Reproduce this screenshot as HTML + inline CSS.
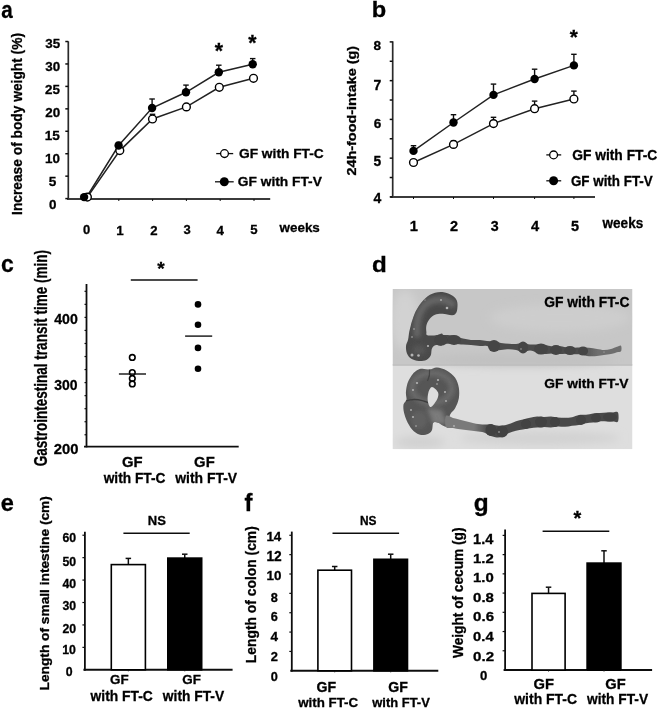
<!DOCTYPE html>
<html><head><meta charset="utf-8"><style>
html,body{margin:0;padding:0;background:#fff;}
svg{display:block;}
text{font-family:"Liberation Sans", sans-serif;font-weight:bold;stroke:#000;stroke-width:0.3px;}
</style></head><body>
<svg width="658" height="708" viewBox="0 0 658 708">
<defs><filter id="soft" x="0" y="0" width="100%" height="100%"><feGaussianBlur stdDeviation="0.35"/></filter></defs>
<g filter="url(#soft)">
<rect width="658" height="708" fill="#fff"/>
<text transform="translate(1.20,17.86) scale(0.831,1)" font-size="24.82" fill="#000">a</text>
<text transform="translate(21.53,214.92) rotate(-90) scale(0.921,1)" font-size="14.95">Increase of body weight (%)</text>
<line x1="68.3" y1="41.3" x2="68.3" y2="199.7" stroke="#2a2a2a" stroke-width="1.7"/>
<line x1="67.1" y1="199.0" x2="270.2" y2="199.0" stroke="#3a3a3a" stroke-width="1.8"/>
<line x1="65.3" y1="198.6" x2="68.3" y2="198.6" stroke="#111" stroke-width="1.5"/>
<line x1="65.3" y1="176.16" x2="68.3" y2="176.16" stroke="#111" stroke-width="1.5"/>
<line x1="65.3" y1="153.72" x2="68.3" y2="153.72" stroke="#111" stroke-width="1.5"/>
<line x1="65.3" y1="131.27999999999997" x2="68.3" y2="131.27999999999997" stroke="#111" stroke-width="1.5"/>
<line x1="65.3" y1="108.83999999999999" x2="68.3" y2="108.83999999999999" stroke="#111" stroke-width="1.5"/>
<line x1="65.3" y1="86.39999999999999" x2="68.3" y2="86.39999999999999" stroke="#111" stroke-width="1.5"/>
<line x1="65.3" y1="63.95999999999998" x2="68.3" y2="63.95999999999998" stroke="#111" stroke-width="1.5"/>
<line x1="65.3" y1="41.51999999999998" x2="68.3" y2="41.51999999999998" stroke="#111" stroke-width="1.5"/>
<text transform="translate(48.88,209.32) scale(1.000,1)" font-size="13.42" fill="#000">0</text>
<text transform="translate(48.79,186.12) scale(1.000,1)" font-size="13.62" fill="#000">5</text>
<text transform="translate(44.99,162.62) scale(1.000,1)" font-size="13.42" fill="#000">10</text>
<text transform="translate(44.79,140.22) scale(1.000,1)" font-size="13.62" fill="#000">15</text>
<text transform="translate(45.18,117.32) scale(1.000,1)" font-size="13.42" fill="#000">20</text>
<text transform="translate(45.09,94.32) scale(1.000,1)" font-size="13.42" fill="#000">25</text>
<text transform="translate(45.27,71.10) scale(1.000,1)" font-size="13.39" fill="#000">30</text>
<text transform="translate(45.19,48.20) scale(1.000,1)" font-size="13.39" fill="#000">35</text>
<line x1="85" y1="199.0" x2="85" y2="201.0" stroke="#111" stroke-width="1"/>
<line x1="118.8" y1="199.0" x2="118.8" y2="201.0" stroke="#111" stroke-width="1"/>
<line x1="152.6" y1="199.0" x2="152.6" y2="201.0" stroke="#111" stroke-width="1"/>
<line x1="186.4" y1="199.0" x2="186.4" y2="201.0" stroke="#111" stroke-width="1"/>
<line x1="220.2" y1="199.0" x2="220.2" y2="201.0" stroke="#111" stroke-width="1"/>
<line x1="254" y1="199.0" x2="254" y2="201.0" stroke="#111" stroke-width="1"/>
<text transform="translate(82.90,234.37) scale(1.000,1)" font-size="12.99" fill="#000">0</text>
<text transform="translate(116.25,234.50) scale(1.000,1)" font-size="13.37" fill="#000">1</text>
<text transform="translate(150.37,234.50) scale(1.000,1)" font-size="13.18" fill="#000">2</text>
<text transform="translate(183.48,234.35) scale(1.000,1)" font-size="12.97" fill="#000">3</text>
<text transform="translate(216.52,234.50) scale(1.000,1)" font-size="13.37" fill="#000">4</text>
<text transform="translate(250.31,234.37) scale(1.000,1)" font-size="13.19" fill="#000">5</text>
<text transform="translate(279.54,232.38) scale(1.049,1)" font-size="12.80" fill="#000">weeks</text>
<polyline points="87.4,197.1 119.8,150.6 152.5,119.0 186.4,106.9 219.3,87.3 253.5,78.3" fill="none" stroke="#222" stroke-width="1.5"/>
<polyline points="87.0,196.5 118.6,145.5 152.1,108.0 186.0,92.3 218.8,72.3 252.7,64.3" fill="none" stroke="#222" stroke-width="1.5"/>
<line x1="118.6" y1="142.5" x2="118.6" y2="145.5" stroke="#111" stroke-width="1.4"/>
<line x1="115.85" y1="142.5" x2="121.35" y2="142.5" stroke="#111" stroke-width="1.4"/>
<line x1="152.1" y1="99.0" x2="152.1" y2="108.0" stroke="#111" stroke-width="1.4"/>
<line x1="149.35" y1="99.0" x2="154.85" y2="99.0" stroke="#111" stroke-width="1.4"/>
<line x1="186.0" y1="85.1" x2="186.0" y2="92.3" stroke="#111" stroke-width="1.4"/>
<line x1="183.25" y1="85.1" x2="188.75" y2="85.1" stroke="#111" stroke-width="1.4"/>
<line x1="218.8" y1="65.2" x2="218.8" y2="72.3" stroke="#111" stroke-width="1.4"/>
<line x1="216.05" y1="65.2" x2="221.55" y2="65.2" stroke="#111" stroke-width="1.4"/>
<line x1="252.7" y1="58.6" x2="252.7" y2="64.3" stroke="#111" stroke-width="1.4"/>
<line x1="249.95" y1="58.6" x2="255.45" y2="58.6" stroke="#111" stroke-width="1.4"/>
<line x1="152.5" y1="114.3" x2="152.5" y2="119.0" stroke="#111" stroke-width="1.4"/>
<line x1="149.75" y1="114.3" x2="155.25" y2="114.3" stroke="#111" stroke-width="1.4"/>
<circle cx="87.4" cy="197.1" r="3.9" fill="#fff" stroke="#000" stroke-width="1.4"/>
<circle cx="119.8" cy="150.6" r="3.9" fill="#fff" stroke="#000" stroke-width="1.4"/>
<circle cx="152.5" cy="119.0" r="3.9" fill="#fff" stroke="#000" stroke-width="1.4"/>
<circle cx="186.4" cy="106.9" r="3.9" fill="#fff" stroke="#000" stroke-width="1.4"/>
<circle cx="219.3" cy="87.3" r="3.9" fill="#fff" stroke="#000" stroke-width="1.4"/>
<circle cx="253.5" cy="78.3" r="3.9" fill="#fff" stroke="#000" stroke-width="1.4"/>
<circle cx="84.1" cy="197.1" r="4.2" fill="#000"/>
<circle cx="118.6" cy="145.5" r="4.2" fill="#000"/>
<circle cx="152.1" cy="108.0" r="4.2" fill="#000"/>
<circle cx="186.0" cy="92.3" r="4.2" fill="#000"/>
<circle cx="218.8" cy="72.3" r="4.2" fill="#000"/>
<circle cx="252.7" cy="64.3" r="4.2" fill="#000"/>
<text transform="translate(214.75,57.71) scale(1.000,1)" font-size="21.23" fill="#000">*</text>
<text transform="translate(248.25,49.71) scale(1.000,1)" font-size="21.23" fill="#000">*</text>
<line x1="216.2" y1="153.6" x2="233.2" y2="153.6" stroke="#111" stroke-width="1.3"/>
<circle cx="224.5" cy="153.6" r="3.9" fill="#fff" stroke="#000" stroke-width="1.3"/>
<text transform="translate(238.94,158.37) scale(1.011,1)" font-size="13.62" fill="#000">GF with FT-C</text>
<line x1="215" y1="181.8" x2="233.7" y2="181.8" stroke="#111" stroke-width="1.3"/>
<circle cx="224.3" cy="181.8" r="4.5" fill="#000"/>
<text transform="translate(237.74,186.37) scale(1.011,1)" font-size="13.62" fill="#000">GF with FT-V</text>
<text transform="translate(371.84,17.38) scale(1.064,1)" font-size="22.20" fill="#000">b</text>
<text transform="translate(355.82,175.60) rotate(-90) scale(1.099,1)" font-size="13.13">24h-food-intake (g)</text>
<line x1="392.7" y1="41.3" x2="392.7" y2="197.7" stroke="#2a2a2a" stroke-width="1.7"/>
<line x1="390.2" y1="197.0" x2="595" y2="197.0" stroke="#3a3a3a" stroke-width="1.8"/>
<line x1="389.7" y1="196.9" x2="392.7" y2="196.9" stroke="#111" stroke-width="1.5"/>
<line x1="389.7" y1="177.525" x2="392.7" y2="177.525" stroke="#111" stroke-width="1.5"/>
<line x1="389.7" y1="158.15" x2="392.7" y2="158.15" stroke="#111" stroke-width="1.5"/>
<line x1="389.7" y1="138.775" x2="392.7" y2="138.775" stroke="#111" stroke-width="1.5"/>
<line x1="389.7" y1="119.4" x2="392.7" y2="119.4" stroke="#111" stroke-width="1.5"/>
<line x1="389.7" y1="100.025" x2="392.7" y2="100.025" stroke="#111" stroke-width="1.5"/>
<line x1="389.7" y1="80.65" x2="392.7" y2="80.65" stroke="#111" stroke-width="1.5"/>
<line x1="389.7" y1="61.275000000000006" x2="392.7" y2="61.275000000000006" stroke="#111" stroke-width="1.5"/>
<line x1="389.7" y1="41.900000000000006" x2="392.7" y2="41.900000000000006" stroke="#111" stroke-width="1.5"/>
<text transform="translate(373.45,203.30) scale(1.000,1)" font-size="13.95" fill="#000">4</text>
<text transform="translate(373.55,166.37) scale(1.000,1)" font-size="13.76" fill="#000">5</text>
<text transform="translate(373.63,127.57) scale(1.000,1)" font-size="13.56" fill="#000">6</text>
<text transform="translate(373.53,90.10) scale(1.000,1)" font-size="13.95" fill="#000">7</text>
<text transform="translate(373.62,50.47) scale(1.000,1)" font-size="13.56" fill="#000">8</text>
<line x1="413.5" y1="197.0" x2="413.5" y2="199.0" stroke="#111" stroke-width="1"/>
<line x1="453.5" y1="197.0" x2="453.5" y2="199.0" stroke="#111" stroke-width="1"/>
<line x1="493.5" y1="197.0" x2="493.5" y2="199.0" stroke="#111" stroke-width="1"/>
<line x1="534.6" y1="197.0" x2="534.6" y2="199.0" stroke="#111" stroke-width="1"/>
<line x1="573.9" y1="197.0" x2="573.9" y2="199.0" stroke="#111" stroke-width="1"/>
<text transform="translate(409.66,231.00) scale(1.000,1)" font-size="14.68" fill="#000">1</text>
<text transform="translate(450.02,231.00) scale(1.000,1)" font-size="14.46" fill="#000">2</text>
<text transform="translate(490.74,230.84) scale(1.000,1)" font-size="14.24" fill="#000">3</text>
<text transform="translate(531.05,231.00) scale(1.000,1)" font-size="14.68" fill="#000">4</text>
<text transform="translate(570.95,230.86) scale(1.000,1)" font-size="14.48" fill="#000">5</text>
<text transform="translate(602.54,228.26) scale(0.976,1)" font-size="13.89" fill="#000">weeks</text>
<polyline points="413.5,162.5 453.5,144.4 493.5,123.6 534.6,108.7 573.9,99" fill="none" stroke="#222" stroke-width="1.5"/>
<polyline points="413.5,150.9 453.5,122.5 493.5,94.9 534.6,79 573.9,65.4" fill="none" stroke="#222" stroke-width="1.5"/>
<line x1="413.5" y1="145.7" x2="413.5" y2="150.9" stroke="#111" stroke-width="1.4"/>
<line x1="410.75" y1="145.7" x2="416.25" y2="145.7" stroke="#111" stroke-width="1.4"/>
<line x1="453.5" y1="114.7" x2="453.5" y2="122.5" stroke="#111" stroke-width="1.4"/>
<line x1="450.75" y1="114.7" x2="456.25" y2="114.7" stroke="#111" stroke-width="1.4"/>
<line x1="493.5" y1="84.1" x2="493.5" y2="94.9" stroke="#111" stroke-width="1.4"/>
<line x1="490.75" y1="84.1" x2="496.25" y2="84.1" stroke="#111" stroke-width="1.4"/>
<line x1="534.6" y1="69.2" x2="534.6" y2="79" stroke="#111" stroke-width="1.4"/>
<line x1="531.85" y1="69.2" x2="537.35" y2="69.2" stroke="#111" stroke-width="1.4"/>
<line x1="573.9" y1="54.3" x2="573.9" y2="65.4" stroke="#111" stroke-width="1.4"/>
<line x1="571.15" y1="54.3" x2="576.65" y2="54.3" stroke="#111" stroke-width="1.4"/>
<line x1="413.5" y1="160" x2="413.5" y2="162.5" stroke="#111" stroke-width="1.4"/>
<line x1="410.75" y1="160" x2="416.25" y2="160" stroke="#111" stroke-width="1.4"/>
<line x1="453.5" y1="141" x2="453.5" y2="144.4" stroke="#111" stroke-width="1.4"/>
<line x1="450.75" y1="141" x2="456.25" y2="141" stroke="#111" stroke-width="1.4"/>
<line x1="493.5" y1="117.3" x2="493.5" y2="123.6" stroke="#111" stroke-width="1.4"/>
<line x1="490.75" y1="117.3" x2="496.25" y2="117.3" stroke="#111" stroke-width="1.4"/>
<line x1="534.6" y1="101.1" x2="534.6" y2="108.7" stroke="#111" stroke-width="1.4"/>
<line x1="531.85" y1="101.1" x2="537.35" y2="101.1" stroke="#111" stroke-width="1.4"/>
<line x1="573.9" y1="91.1" x2="573.9" y2="99" stroke="#111" stroke-width="1.4"/>
<line x1="571.15" y1="91.1" x2="576.65" y2="91.1" stroke="#111" stroke-width="1.4"/>
<circle cx="413.5" cy="162.5" r="3.9" fill="#fff" stroke="#000" stroke-width="1.4"/>
<circle cx="453.5" cy="144.4" r="3.9" fill="#fff" stroke="#000" stroke-width="1.4"/>
<circle cx="493.5" cy="123.6" r="3.9" fill="#fff" stroke="#000" stroke-width="1.4"/>
<circle cx="534.6" cy="108.7" r="3.9" fill="#fff" stroke="#000" stroke-width="1.4"/>
<circle cx="573.9" cy="99" r="3.9" fill="#fff" stroke="#000" stroke-width="1.4"/>
<circle cx="413.5" cy="150.9" r="4.2" fill="#000"/>
<circle cx="453.5" cy="122.5" r="4.2" fill="#000"/>
<circle cx="493.5" cy="94.9" r="4.2" fill="#000"/>
<circle cx="534.6" cy="79" r="4.2" fill="#000"/>
<circle cx="573.9" cy="65.4" r="4.2" fill="#000"/>
<text transform="translate(569.80,44.44) scale(1.000,1)" font-size="20.70" fill="#000">*</text>
<line x1="546.3" y1="154.9" x2="561.2" y2="154.9" stroke="#111" stroke-width="1.3"/>
<circle cx="553.6" cy="154.9" r="3.9" fill="#fff" stroke="#000" stroke-width="1.3"/>
<text transform="translate(572.23,159.56) scale(0.965,1)" font-size="14.30" fill="#000">GF with FT-C</text>
<line x1="546.3" y1="180.8" x2="561.2" y2="180.8" stroke="#111" stroke-width="1.3"/>
<circle cx="553.6" cy="180.8" r="4.5" fill="#000"/>
<text transform="translate(570.95,185.76) scale(0.946,1)" font-size="14.16" fill="#000">GF with FT-V</text>
<text transform="translate(1.10,272.06) scale(0.953,1)" font-size="24.09" fill="#000">c</text>
<text transform="translate(46.83,466.35) rotate(-90) scale(0.764,1)" font-size="17.70">Gastrointestinal transit time (min)</text>
<line x1="86.5" y1="284" x2="86.5" y2="447.4" stroke="#111" stroke-width="1.8"/>
<line x1="84" y1="446.7" x2="238.7" y2="446.7" stroke="#111" stroke-width="1.8"/>
<line x1="84.5" y1="291.32" x2="86.5" y2="291.32" stroke="#111" stroke-width="1.2"/>
<line x1="84.5" y1="304.35999999999996" x2="86.5" y2="304.35999999999996" stroke="#111" stroke-width="1.2"/>
<line x1="84.5" y1="317.4" x2="86.5" y2="317.4" stroke="#111" stroke-width="1.2"/>
<line x1="84.5" y1="330.44" x2="86.5" y2="330.44" stroke="#111" stroke-width="1.2"/>
<line x1="84.5" y1="343.47999999999996" x2="86.5" y2="343.47999999999996" stroke="#111" stroke-width="1.2"/>
<line x1="84.5" y1="356.52" x2="86.5" y2="356.52" stroke="#111" stroke-width="1.2"/>
<line x1="84.5" y1="369.55999999999995" x2="86.5" y2="369.55999999999995" stroke="#111" stroke-width="1.2"/>
<line x1="84.5" y1="382.59999999999997" x2="86.5" y2="382.59999999999997" stroke="#111" stroke-width="1.2"/>
<line x1="84.5" y1="395.64" x2="86.5" y2="395.64" stroke="#111" stroke-width="1.2"/>
<line x1="84.5" y1="408.67999999999995" x2="86.5" y2="408.67999999999995" stroke="#111" stroke-width="1.2"/>
<line x1="84.5" y1="421.71999999999997" x2="86.5" y2="421.71999999999997" stroke="#111" stroke-width="1.2"/>
<line x1="84.5" y1="434.76" x2="86.5" y2="434.76" stroke="#111" stroke-width="1.2"/>
<text transform="translate(54.19,324.46) scale(0.991,1)" font-size="14.27" fill="#000">400</text>
<text transform="translate(54.28,389.54) scale(0.981,1)" font-size="14.24" fill="#000">300</text>
<text transform="translate(53.69,454.25) scale(0.980,1)" font-size="15.11" fill="#000">200</text>
<line x1="130.8" y1="280.0" x2="197.6" y2="280.0" stroke="#111" stroke-width="1.5"/>
<text transform="translate(157.32,275.33) scale(1.000,1)" font-size="19.08" fill="#000">*</text>
<circle cx="132.3" cy="357.4" r="2.8" fill="#fff" stroke="#000" stroke-width="1.6"/>
<circle cx="132.3" cy="372.6" r="2.8" fill="#fff" stroke="#000" stroke-width="1.6"/>
<circle cx="132.3" cy="378.6" r="2.8" fill="#fff" stroke="#000" stroke-width="1.6"/>
<circle cx="132.3" cy="383.9" r="2.8" fill="#fff" stroke="#000" stroke-width="1.6"/>
<line x1="118.9" y1="374" x2="146" y2="374" stroke="#111" stroke-width="1.4"/>
<circle cx="198" cy="304.4" r="3.3" fill="#000"/>
<circle cx="198" cy="324.8" r="3.3" fill="#000"/>
<circle cx="198" cy="347.9" r="3.3" fill="#000"/>
<circle cx="198" cy="368.7" r="3.3" fill="#000"/>
<line x1="185.1" y1="336.1" x2="212.2" y2="336.1" stroke="#111" stroke-width="1.4"/>
<text transform="translate(122.02,467.26) scale(1.000,1)" font-size="14.83" fill="#000">GF</text>
<text transform="translate(103.64,483.15) scale(0.885,1)" font-size="15.52" fill="#000">with FT-C</text>
<text transform="translate(194.12,467.26) scale(1.000,1)" font-size="14.83" fill="#000">GF</text>
<text transform="translate(175.24,483.16) scale(0.896,1)" font-size="15.54" fill="#000">with FT-V</text>
<text transform="translate(371.91,272.38) scale(1.058,1)" font-size="22.88" fill="#000">d</text>
<defs>
<filter id="pb" x="-10%" y="-10%" width="120%" height="120%"><feGaussianBlur stdDeviation="0.7"/></filter>
<filter id="pb2" x="-20%" y="-20%" width="140%" height="140%"><feGaussianBlur stdDeviation="4"/></filter>
<filter id="pb3" x="-20%" y="-20%" width="140%" height="140%"><feGaussianBlur stdDeviation="2"/></filter>
<clipPath id="pc"><rect x="392.5" y="288.9" width="240" height="160.4"/></clipPath>
<clipPath id="hookc"><path d="M457.5 305.1 C457.5 307.2 457.3 310.9 456.4 312.6 C455.5 314.3 454.5 315.1 452.2 315.3 C449.9 315.5 445.4 313.8 442.5 313.7 C439.6 313.6 437.1 313.9 435.0 314.8 C432.9 315.7 431.0 317.3 429.6 319.1 C428.2 320.9 426.9 323.4 426.4 325.5 C425.9 327.6 426.2 330.4 426.4 332.0 C426.6 333.6 425.6 334.7 427.4 335.2 C429.2 335.7 434.6 335.4 437.1 335.2 C439.6 335.0 441.6 332.5 442.5 334.1 C443.4 335.7 443.4 343.2 442.5 345.0 C441.6 346.8 438.5 344.8 437.1 344.9 C435.7 345.0 434.8 345.2 433.9 345.9 C433.0 346.6 432.2 347.6 431.7 349.2 C431.2 350.8 431.6 353.8 430.7 355.6 C429.8 357.4 428.4 359.0 426.4 359.9 C424.4 360.8 421.4 361.2 418.9 361.0 C416.4 360.8 413.3 360.1 411.3 358.8 C409.3 357.5 407.9 355.5 407.0 353.4 C406.1 351.2 405.8 348.2 406.0 345.9 C406.2 343.6 407.6 341.8 408.1 339.5 C408.6 337.2 408.8 334.3 409.2 332.0 C409.6 329.7 410.3 327.5 410.8 325.5 C411.3 323.5 411.6 322.4 412.4 320.1 C413.2 317.8 414.2 314.5 415.6 311.6 C417.0 308.8 419.0 305.5 421.0 303.0 C423.0 300.5 425.1 298.2 427.4 296.5 C429.7 294.8 432.3 293.5 435.0 292.8 C437.7 292.1 440.7 291.8 443.6 292.2 C446.5 292.6 450.1 294.1 452.2 295.4 C454.3 296.6 455.5 298.1 456.4 299.7 C457.3 301.3 457.5 303.0 457.5 305.1 Z"/></clipPath>
<clipPath id="ringc"><path d="M422.3 368.7 C424.3 368.6 427.2 369.8 429.6 369.6 C432.0 369.4 434.1 367.4 436.9 367.5 C439.7 367.6 443.6 368.8 446.6 370.5 C449.6 372.2 453.1 375.0 455.1 377.8 C457.1 380.6 458.2 384.1 458.8 387.5 C459.4 390.9 459.4 395.1 458.8 398.5 C458.2 401.9 456.5 405.6 455.1 408.2 C453.7 410.8 451.7 411.3 450.3 414.3 C448.9 417.3 448.6 425.0 446.6 426.4 C444.6 427.8 440.3 423.4 438.1 422.8 C435.9 422.2 434.3 421.6 433.3 422.8 C432.3 424.0 432.8 428.3 432.0 430.1 C431.2 431.9 430.2 432.9 428.4 433.7 C426.6 434.5 423.5 435.4 421.1 435.0 C418.7 434.6 416.0 433.3 413.8 431.3 C411.6 429.3 409.3 425.8 407.7 422.8 C406.1 419.8 404.8 416.1 404.1 413.1 C403.4 410.1 403.1 406.8 403.5 404.6 C403.9 402.4 406.1 401.7 406.5 399.7 C406.9 397.7 405.7 395.2 405.9 392.4 C406.1 389.6 406.6 385.7 407.7 382.7 C408.8 379.7 411.0 376.3 412.6 374.2 C414.2 372.1 415.9 370.8 417.5 369.9 C419.1 369.0 420.3 368.8 422.3 368.7 Z"/></clipPath>
</defs>
<g clip-path="url(#pc)">
<rect x="392.5" y="288.9" width="240" height="76" fill="#c7c7c7"/>
<rect x="392.5" y="364.8" width="240" height="84.5" fill="#dedede"/>
<g filter="url(#pb2)">
<ellipse cx="405" cy="320" rx="14" ry="30" fill="#d2d2d2"/>
<ellipse cx="560" cy="318" rx="70" ry="14" fill="#cdcdcd"/>
<ellipse cx="520" cy="360" rx="95" ry="6" fill="#c0c0c0"/>
<ellipse cx="540" cy="438" rx="80" ry="7" fill="#d2d2d2"/>
<ellipse cx="420" cy="442" rx="25" ry="6" fill="#d0d0d0"/>
</g>
<rect x="392.5" y="364.2" width="240" height="1.6" fill="#bdbdbd"/>
<g filter="url(#pb)">
<path d="M457.5 305.1 C457.5 307.2 457.3 310.9 456.4 312.6 C455.5 314.3 454.5 315.1 452.2 315.3 C449.9 315.5 445.4 313.8 442.5 313.7 C439.6 313.6 437.1 313.9 435.0 314.8 C432.9 315.7 431.0 317.3 429.6 319.1 C428.2 320.9 426.9 323.4 426.4 325.5 C425.9 327.6 426.2 330.4 426.4 332.0 C426.6 333.6 425.6 334.7 427.4 335.2 C429.2 335.7 434.6 335.4 437.1 335.2 C439.6 335.0 441.6 332.5 442.5 334.1 C443.4 335.7 443.4 343.2 442.5 345.0 C441.6 346.8 438.5 344.8 437.1 344.9 C435.7 345.0 434.8 345.2 433.9 345.9 C433.0 346.6 432.2 347.6 431.7 349.2 C431.2 350.8 431.6 353.8 430.7 355.6 C429.8 357.4 428.4 359.0 426.4 359.9 C424.4 360.8 421.4 361.2 418.9 361.0 C416.4 360.8 413.3 360.1 411.3 358.8 C409.3 357.5 407.9 355.5 407.0 353.4 C406.1 351.2 405.8 348.2 406.0 345.9 C406.2 343.6 407.6 341.8 408.1 339.5 C408.6 337.2 408.8 334.3 409.2 332.0 C409.6 329.7 410.3 327.5 410.8 325.5 C411.3 323.5 411.6 322.4 412.4 320.1 C413.2 317.8 414.2 314.5 415.6 311.6 C417.0 308.8 419.0 305.5 421.0 303.0 C423.0 300.5 425.1 298.2 427.4 296.5 C429.7 294.8 432.3 293.5 435.0 292.8 C437.7 292.1 440.7 291.8 443.6 292.2 C446.5 292.6 450.1 294.1 452.2 295.4 C454.3 296.6 455.5 298.1 456.4 299.7 C457.3 301.3 457.5 303.0 457.5 305.1 Z" fill="#4a4a4a"/>
<g clip-path="url(#hookc)" filter="url(#pb3)">
<path d="M452 304 C 445 298 432 298 424 306 C 418 313 416 322 417 334" stroke="#666" stroke-width="7" fill="none" stroke-linecap="round"/>
<ellipse cx="419" cy="350" rx="7" ry="5" fill="#555"/>
</g>
<linearGradient id="tg" gradientUnits="userSpaceOnUse" x1="578" y1="0" x2="598" y2="0"><stop offset="0" stop-color="#4c4c4c"/><stop offset="1" stop-color="#6e6e6e"/></linearGradient>
<path d="M436.0 335.6 C437.5 334.1 441.8 335.0 445.0 335.1 C448.2 335.2 452.0 335.4 455.0 336.0 C458.0 336.6 460.3 337.8 463.0 338.5 C465.7 339.1 468.2 339.7 471.0 339.9 C473.8 340.2 477.3 339.8 480.0 340.0 C482.7 340.1 484.7 340.7 487.0 340.9 C489.3 341.2 491.7 341.3 494.0 341.6 C496.3 341.9 498.5 342.5 501.0 342.9 C503.5 343.2 506.5 343.5 509.0 343.7 C511.5 343.9 513.7 344.1 516.0 344.0 C518.3 343.8 520.7 342.8 523.0 342.9 C525.3 342.9 527.7 344.2 530.0 344.5 C532.3 344.7 534.5 344.4 537.0 344.5 C539.5 344.6 542.5 344.8 545.0 345.1 C547.5 345.4 549.7 346.2 552.0 346.4 C554.3 346.5 556.7 345.9 559.0 346.0 C561.3 346.1 563.7 347.0 566.0 347.3 C568.3 347.6 570.5 347.7 573.0 347.8 C575.5 347.9 578.3 347.6 581.0 347.6 C583.7 347.6 586.3 347.6 589.0 347.8 C591.7 348.0 594.5 348.6 597.0 348.9 C599.5 349.2 601.7 349.9 604.0 349.9 C606.3 349.9 608.8 349.5 611.0 348.9 C613.2 348.4 615.3 347.2 617.0 346.7 C618.7 346.2 620.3 344.9 621.0 345.7 C621.7 346.5 621.7 350.2 621.0 351.3 C620.3 352.4 618.7 351.8 617.0 352.3 C615.3 352.8 613.2 353.6 611.0 354.1 C608.8 354.5 606.3 354.8 604.0 355.1 C601.7 355.5 599.5 355.9 597.0 356.1 C594.5 356.3 591.7 356.5 589.0 356.2 C586.3 355.9 583.7 354.7 581.0 354.4 C578.3 354.0 575.5 354.3 573.0 354.2 C570.5 354.1 568.3 353.7 566.0 353.7 C563.7 353.7 561.3 354.0 559.0 354.0 C556.7 354.0 554.3 353.6 552.0 353.6 C549.7 353.6 547.5 354.1 545.0 353.9 C542.5 353.7 539.5 353.1 537.0 352.5 C534.5 351.9 532.3 350.6 530.0 350.5 C527.7 350.5 525.3 352.2 523.0 352.1 C520.7 352.1 518.3 350.5 516.0 350.0 C513.7 349.6 511.5 349.3 509.0 349.3 C506.5 349.3 503.5 349.9 501.0 350.1 C498.5 350.3 496.3 351.1 494.0 350.4 C491.7 349.7 489.3 346.8 487.0 346.1 C484.7 345.3 482.7 346.2 480.0 346.0 C477.3 345.9 473.8 345.3 471.0 345.1 C468.2 344.8 465.7 344.7 463.0 344.5 C460.3 344.4 458.0 344.1 455.0 344.0 C452.0 343.9 448.2 343.8 445.0 343.9 C441.8 344.0 437.5 345.8 436.0 344.4 C434.5 343.0 434.5 337.2 436.0 335.6 Z" fill="url(#tg)"/>
<g fill="#444">
<ellipse cx="441" cy="340" rx="7" ry="5.5"/>
<ellipse cx="454" cy="340" rx="7" ry="5"/>
<ellipse cx="494" cy="346" rx="6" ry="6"/>
<ellipse cx="523" cy="347.5" rx="5" ry="6"/>
<ellipse cx="541" cy="349" rx="7" ry="5.5"/>
<ellipse cx="556" cy="350" rx="6" ry="5"/>
<ellipse cx="570" cy="350.5" rx="6" ry="4.5"/>
<ellipse cx="583" cy="351" rx="5" ry="4.5"/>
</g>
<path d="M422.3 368.7 C424.3 368.6 427.2 369.8 429.6 369.6 C432.0 369.4 434.1 367.4 436.9 367.5 C439.7 367.6 443.6 368.8 446.6 370.5 C449.6 372.2 453.1 375.0 455.1 377.8 C457.1 380.6 458.2 384.1 458.8 387.5 C459.4 390.9 459.4 395.1 458.8 398.5 C458.2 401.9 456.5 405.6 455.1 408.2 C453.7 410.8 451.7 411.3 450.3 414.3 C448.9 417.3 448.6 425.0 446.6 426.4 C444.6 427.8 440.3 423.4 438.1 422.8 C435.9 422.2 434.3 421.6 433.3 422.8 C432.3 424.0 432.8 428.3 432.0 430.1 C431.2 431.9 430.2 432.9 428.4 433.7 C426.6 434.5 423.5 435.4 421.1 435.0 C418.7 434.6 416.0 433.3 413.8 431.3 C411.6 429.3 409.3 425.8 407.7 422.8 C406.1 419.8 404.8 416.1 404.1 413.1 C403.4 410.1 403.1 406.8 403.5 404.6 C403.9 402.4 406.1 401.7 406.5 399.7 C406.9 397.7 405.7 395.2 405.9 392.4 C406.1 389.6 406.6 385.7 407.7 382.7 C408.8 379.7 411.0 376.3 412.6 374.2 C414.2 372.1 415.9 370.8 417.5 369.9 C419.1 369.0 420.3 368.8 422.3 368.7 Z" fill="#565656"/>
<g clip-path="url(#ringc)" filter="url(#pb3)">
<ellipse cx="432" cy="388" rx="20" ry="15" fill="none" stroke="#6a6a6a" stroke-width="6"/>
<ellipse cx="419" cy="420" rx="8" ry="9" fill="#606060"/>
<path d="M427 408 L 442 410 L 447 424 L 433 424 Z" fill="#7a7a7a"/>
</g>
<path d="M406 401 C 414 398 423 400 431 404" stroke="#3e3e3e" stroke-width="1.3" fill="none"/>
<path d="M429.6 369.6 C 430 374 429 378 427.5 381" stroke="#444" stroke-width="1.2" fill="none"/>
<path d="M432.0 386.9 C433.6 386.9 437.3 390.3 438.1 392.4 C438.9 394.5 438.1 397.3 436.9 399.7 C435.7 402.1 432.3 406.8 430.8 407.0 C429.3 407.2 428.2 403.3 427.8 400.9 C427.4 398.5 427.7 394.7 428.4 392.4 C429.1 390.1 430.4 386.9 432.0 386.9 Z" fill="#dedede"/>
<linearGradient id="bg2" gradientUnits="userSpaceOnUse" x1="474" y1="0" x2="488" y2="0"><stop offset="0" stop-color="#7a7a7a"/><stop offset="1" stop-color="#4a4a4a"/></linearGradient>
<path d="M446.0 416.0 C447.2 414.5 450.7 417.4 453.0 418.0 C455.3 418.6 457.5 419.1 460.0 419.7 C462.5 420.3 465.3 421.1 468.0 421.8 C470.7 422.5 473.3 423.2 476.0 423.7 C478.7 424.1 481.7 424.4 484.0 424.5 C486.3 424.6 487.8 424.0 490.0 424.2 C492.2 424.4 494.8 425.3 497.0 425.5 C499.2 425.7 501.0 425.8 503.0 425.5 C505.0 425.2 506.8 424.7 509.0 424.0 C511.2 423.3 513.7 421.9 516.0 421.2 C518.3 420.4 520.7 420.1 523.0 419.5 C525.3 418.9 527.7 418.3 530.0 417.8 C532.3 417.3 534.7 416.6 537.0 416.5 C539.3 416.4 541.7 417.0 544.0 417.0 C546.3 417.0 548.7 416.4 551.0 416.5 C553.3 416.6 555.7 417.3 558.0 417.5 C560.3 417.7 562.7 417.8 565.0 417.8 C567.3 417.8 569.7 417.8 572.0 417.3 C574.3 416.8 576.7 415.4 579.0 415.0 C581.3 414.6 583.7 415.0 586.0 414.7 C588.3 414.4 590.7 413.7 593.0 413.4 C595.3 413.1 597.7 413.1 600.0 413.0 C602.3 412.9 604.8 412.6 607.0 412.5 C609.2 412.4 611.2 412.5 613.0 412.5 C614.8 412.5 617.2 411.0 618.0 412.5 C618.8 414.0 618.8 420.0 618.0 421.5 C617.2 423.0 614.8 421.5 613.0 421.5 C611.2 421.5 609.2 421.5 607.0 421.5 C604.8 421.5 602.3 421.2 600.0 421.4 C597.7 421.6 595.3 422.3 593.0 422.6 C590.7 422.9 588.3 422.9 586.0 423.3 C583.7 423.7 581.3 424.6 579.0 425.0 C576.7 425.4 574.3 425.4 572.0 425.7 C569.7 426.0 567.3 426.7 565.0 426.8 C562.7 426.9 560.3 426.4 558.0 426.5 C555.7 426.6 553.3 427.4 551.0 427.5 C548.7 427.6 546.3 427.0 544.0 427.0 C541.7 427.0 539.3 427.3 537.0 427.5 C534.7 427.7 532.3 427.9 530.0 428.2 C527.7 428.5 525.3 429.1 523.0 429.5 C520.7 429.9 518.3 430.2 516.0 430.8 C513.7 431.4 511.2 432.1 509.0 433.0 C506.8 433.9 505.0 435.8 503.0 436.5 C501.0 437.2 499.2 437.6 497.0 437.5 C494.8 437.4 492.2 436.6 490.0 435.8 C487.8 435.0 486.3 433.2 484.0 432.5 C481.7 431.8 478.7 431.7 476.0 431.3 C473.3 430.9 470.7 430.5 468.0 430.2 C465.3 429.9 462.5 429.7 460.0 429.3 C457.5 428.9 455.3 428.4 453.0 428.0 C450.7 427.6 447.2 429.0 446.0 427.0 C444.8 425.0 444.8 417.5 446.0 416.0 Z" fill="url(#bg2)"/>
<g fill="#424242">
<ellipse cx="491" cy="430" rx="5.5" ry="6"/>
<ellipse cx="502" cy="431.5" rx="6" ry="6"/>
<ellipse cx="526" cy="424" rx="5" ry="5"/>
<ellipse cx="541" cy="422" rx="6" ry="5.5"/>
<ellipse cx="555" cy="422" rx="5" ry="5"/>
<ellipse cx="581" cy="420" rx="5" ry="5"/>
<ellipse cx="596" cy="418" rx="5" ry="4.6"/>
<ellipse cx="610" cy="417" rx="7" ry="4.6"/>
</g>
</g>
<g filter="url(#pb)" fill="#b4b4b4">
<circle cx="447" cy="308" r="1.3"/>
<circle cx="441" cy="300" r="0.9"/>
<circle cx="412" cy="355" r="1.5"/>
<circle cx="418.5" cy="355.5" r="1.3"/>
<circle cx="428" cy="346" r="1.1"/>
<circle cx="414" cy="329" r="0.8"/>
<circle cx="412" cy="337" r="0.8"/>
<circle cx="417" cy="383" r="1.1"/>
<circle cx="413" cy="390" r="1.0"/>
<circle cx="438" cy="380" r="1.1"/>
<circle cx="437" cy="384" r="0.8"/>
<circle cx="413" cy="417" r="1.0"/>
<circle cx="411" cy="410" r="0.9"/>
<circle cx="445" cy="392" r="1.0"/>
<circle cx="446" cy="401" r="0.9"/>
<circle cx="416" cy="426" r="0.8"/>
<circle cx="454" cy="426" r="0.9"/>
<circle cx="499" cy="432" r="0.8"/>
<circle cx="425" cy="300" r="0.6"/>
<circle cx="604" cy="352" r="0.6"/>
<circle cx="521" cy="349" r="0.7"/>
</g>
</g>
<text transform="translate(544.23,306.96) scale(0.958,1)" font-size="14.43" fill="#000">GF with FT-C</text>
<text transform="translate(544.23,388.07) scale(1.013,1)" font-size="13.62" fill="#000">GF with FT-V</text>
<text transform="translate(0.68,510.96) scale(0.958,1)" font-size="24.64" fill="#000">e</text>
<text transform="translate(48.88,690.42) rotate(-90) scale(1.108,1)" font-size="12.39">Length of small intestine (cm)</text>
<line x1="84.9" y1="531.8" x2="84.9" y2="670.6999999999999" stroke="#111" stroke-width="1.8"/>
<line x1="83.4" y1="669.8" x2="232.6" y2="669.8" stroke="#111" stroke-width="2.0"/>
<line x1="82.4" y1="647.37" x2="84.9" y2="647.37" stroke="#111" stroke-width="1.2"/>
<line x1="82.4" y1="624.9399999999999" x2="84.9" y2="624.9399999999999" stroke="#111" stroke-width="1.2"/>
<line x1="82.4" y1="602.51" x2="84.9" y2="602.51" stroke="#111" stroke-width="1.2"/>
<line x1="82.4" y1="580.0799999999999" x2="84.9" y2="580.0799999999999" stroke="#111" stroke-width="1.2"/>
<line x1="82.4" y1="557.65" x2="84.9" y2="557.65" stroke="#111" stroke-width="1.2"/>
<line x1="82.4" y1="535.22" x2="84.9" y2="535.22" stroke="#111" stroke-width="1.2"/>
<text transform="translate(62.39,542.28) scale(1.000,1)" font-size="12.29" fill="#000">60</text>
<text transform="translate(62.43,565.53) scale(1.000,1)" font-size="12.29" fill="#000">50</text>
<text transform="translate(62.53,588.03) scale(1.000,1)" font-size="12.29" fill="#000">40</text>
<text transform="translate(62.49,609.81) scale(1.000,1)" font-size="12.26" fill="#000">30</text>
<text transform="translate(62.40,632.58) scale(1.000,1)" font-size="12.29" fill="#000">20</text>
<text transform="translate(62.23,654.18) scale(1.000,1)" font-size="12.29" fill="#000">10</text>
<text transform="translate(65.79,676.43) scale(1.000,1)" font-size="12.29" fill="#000">0</text>
<line x1="128.35" y1="558.4" x2="128.35" y2="564.6" stroke="#111" stroke-width="1.5"/>
<line x1="125.6" y1="558.4" x2="131.1" y2="558.4" stroke="#111" stroke-width="1.5"/>
<rect x="111.3" y="564.6" width="34.10000000000001" height="105.19999999999993" fill="#fff" stroke="#000" stroke-width="1.6"/>
<line x1="128.35" y1="669.8" x2="128.35" y2="671.3" stroke="#111" stroke-width="1"/>
<line x1="184.75" y1="554.2" x2="184.75" y2="558.1" stroke="#111" stroke-width="1.5"/>
<line x1="182.0" y1="554.2" x2="187.5" y2="554.2" stroke="#111" stroke-width="1.5"/>
<rect x="167.8" y="558.1" width="33.89999999999998" height="111.69999999999993" fill="#000" stroke="#000" stroke-width="1.6"/>
<line x1="184.75" y1="669.8" x2="184.75" y2="671.3" stroke="#111" stroke-width="1"/>
<line x1="123.4" y1="533.2" x2="189.7" y2="533.2" stroke="#111" stroke-width="1.4"/>
<text transform="translate(147.79,525.27) scale(1.000,1)" font-size="12.99" fill="#000">NS</text>
<text transform="translate(110.00,684.47) scale(1.000,1)" font-size="13.42" fill="#000">GF</text>
<text transform="translate(90.54,701.05) scale(0.924,1)" font-size="14.98" fill="#000">with FT-C</text>
<text transform="translate(182.35,684.47) scale(1.000,1)" font-size="13.42" fill="#000">GF</text>
<text transform="translate(162.84,701.07) scale(0.921,1)" font-size="15.00" fill="#000">with FT-V</text>
<text transform="translate(244.59,510.80) scale(1.025,1)" font-size="23.32" fill="#000">f</text>
<text transform="translate(256.26,663.13) rotate(-90) scale(0.998,1)" font-size="13.88">Length of colon (cm)</text>
<line x1="291.79999999999995" y1="531.6" x2="291.79999999999995" y2="671.6999999999999" stroke="#111" stroke-width="1.8"/>
<line x1="290.29999999999995" y1="670.8" x2="438.3" y2="670.8" stroke="#111" stroke-width="2.0"/>
<line x1="289.29999999999995" y1="651.4399999999999" x2="291.79999999999995" y2="651.4399999999999" stroke="#111" stroke-width="1.2"/>
<line x1="289.29999999999995" y1="632.0799999999999" x2="291.79999999999995" y2="632.0799999999999" stroke="#111" stroke-width="1.2"/>
<line x1="289.29999999999995" y1="612.7199999999999" x2="291.79999999999995" y2="612.7199999999999" stroke="#111" stroke-width="1.2"/>
<line x1="289.29999999999995" y1="593.3599999999999" x2="291.79999999999995" y2="593.3599999999999" stroke="#111" stroke-width="1.2"/>
<line x1="289.29999999999995" y1="574.0" x2="291.79999999999995" y2="574.0" stroke="#111" stroke-width="1.2"/>
<line x1="289.29999999999995" y1="554.64" x2="291.79999999999995" y2="554.64" stroke="#111" stroke-width="1.2"/>
<line x1="289.29999999999995" y1="535.28" x2="291.79999999999995" y2="535.28" stroke="#111" stroke-width="1.2"/>
<text transform="translate(266.38,541.00) scale(1.000,1)" font-size="13.37" fill="#000">14</text>
<text transform="translate(266.40,561.20) scale(1.000,1)" font-size="13.75" fill="#000">12</text>
<text transform="translate(266.59,580.47) scale(1.000,1)" font-size="13.42" fill="#000">10</text>
<text transform="translate(270.66,601.68) scale(1.000,1)" font-size="12.71" fill="#000">8</text>
<text transform="translate(270.66,621.18) scale(1.000,1)" font-size="12.71" fill="#000">6</text>
<text transform="translate(270.38,641.30) scale(1.000,1)" font-size="13.52" fill="#000">4</text>
<text transform="translate(270.65,661.00) scale(1.000,1)" font-size="12.89" fill="#000">2</text>
<text transform="translate(270.67,680.88) scale(1.000,1)" font-size="12.71" fill="#000">0</text>
<line x1="334.7" y1="566.5" x2="334.7" y2="570.2" stroke="#111" stroke-width="1.5"/>
<line x1="331.95" y1="566.5" x2="337.45" y2="566.5" stroke="#111" stroke-width="1.5"/>
<rect x="317.9" y="570.2" width="33.60000000000002" height="100.59999999999991" fill="#fff" stroke="#000" stroke-width="1.6"/>
<line x1="334.7" y1="670.8" x2="334.7" y2="672.3" stroke="#111" stroke-width="1"/>
<line x1="390.7" y1="554.2" x2="390.7" y2="559.3" stroke="#111" stroke-width="1.5"/>
<line x1="387.95" y1="554.2" x2="393.45" y2="554.2" stroke="#111" stroke-width="1.5"/>
<rect x="373.9" y="559.3" width="33.60000000000002" height="111.5" fill="#000" stroke="#000" stroke-width="1.6"/>
<line x1="390.7" y1="670.8" x2="390.7" y2="672.3" stroke="#111" stroke-width="1"/>
<line x1="332.5" y1="533.2" x2="399.1" y2="533.2" stroke="#111" stroke-width="1.4"/>
<text transform="translate(359.94,525.28) scale(1.000,1)" font-size="11.86" fill="#000">NS</text>
<text transform="translate(316.56,692.26) scale(1.000,1)" font-size="14.12" fill="#000">GF</text>
<text transform="translate(298.24,706.77) scale(1.020,1)" font-size="13.07" fill="#000">with FT-C</text>
<text transform="translate(388.36,692.26) scale(1.000,1)" font-size="14.12" fill="#000">GF</text>
<text transform="translate(372.24,706.78) scale(0.991,1)" font-size="13.09" fill="#000">with FT-V</text>
<text transform="translate(473.70,510.59) scale(1.014,1)" font-size="24.12" fill="#000">g</text>
<text transform="translate(462.75,658.01) rotate(-90) scale(0.923,1)" font-size="14.84">Weight of cecum (g)</text>
<line x1="505.09999999999997" y1="529.5" x2="505.09999999999997" y2="670.9" stroke="#111" stroke-width="1.8"/>
<line x1="503.59999999999997" y1="670.0" x2="652.1" y2="670.0" stroke="#111" stroke-width="2.0"/>
<line x1="502.59999999999997" y1="650.77" x2="505.09999999999997" y2="650.77" stroke="#111" stroke-width="1.2"/>
<line x1="502.59999999999997" y1="631.54" x2="505.09999999999997" y2="631.54" stroke="#111" stroke-width="1.2"/>
<line x1="502.59999999999997" y1="612.31" x2="505.09999999999997" y2="612.31" stroke="#111" stroke-width="1.2"/>
<line x1="502.59999999999997" y1="593.0799999999999" x2="505.09999999999997" y2="593.0799999999999" stroke="#111" stroke-width="1.2"/>
<line x1="502.59999999999997" y1="573.85" x2="505.09999999999997" y2="573.85" stroke="#111" stroke-width="1.2"/>
<line x1="502.59999999999997" y1="554.62" x2="505.09999999999997" y2="554.62" stroke="#111" stroke-width="1.2"/>
<line x1="502.59999999999997" y1="535.39" x2="505.09999999999997" y2="535.39" stroke="#111" stroke-width="1.2"/>
<text transform="translate(473.09,543.50) scale(1.020,1)" font-size="14.24" fill="#000">1.4</text>
<text transform="translate(473.06,563.20) scale(1.145,1)" font-size="13.03" fill="#000">1.2</text>
<text transform="translate(473.06,582.07) scale(1.161,1)" font-size="12.85" fill="#000">1.0</text>
<text transform="translate(473.11,601.68) scale(1.180,1)" font-size="12.71" fill="#000">0.8</text>
<text transform="translate(473.10,621.17) scale(1.147,1)" font-size="13.14" fill="#000">0.6</text>
<text transform="translate(473.12,641.17) scale(1.121,1)" font-size="13.14" fill="#000">0.4</text>
<text transform="translate(473.10,660.67) scale(1.114,1)" font-size="13.56" fill="#000">0.2</text>
<text transform="translate(479.96,679.87) scale(1.000,1)" font-size="13.14" fill="#000">0</text>
<line x1="548.55" y1="587.2" x2="548.55" y2="593.4" stroke="#111" stroke-width="1.5"/>
<line x1="545.8" y1="587.2" x2="551.3" y2="587.2" stroke="#111" stroke-width="1.5"/>
<rect x="532.0" y="593.4" width="33.10000000000002" height="76.60000000000002" fill="#fff" stroke="#000" stroke-width="1.6"/>
<line x1="548.55" y1="670.0" x2="548.55" y2="671.5" stroke="#111" stroke-width="1"/>
<line x1="604.0" y1="550.8" x2="604.0" y2="563.1" stroke="#111" stroke-width="1.5"/>
<line x1="601.25" y1="550.8" x2="606.75" y2="550.8" stroke="#111" stroke-width="1.5"/>
<rect x="587.1" y="563.1" width="33.799999999999955" height="106.89999999999998" fill="#000" stroke="#000" stroke-width="1.6"/>
<line x1="604.0" y1="670.0" x2="604.0" y2="671.5" stroke="#111" stroke-width="1"/>
<line x1="542.6" y1="531.3" x2="609.3" y2="531.3" stroke="#111" stroke-width="1.4"/>
<text transform="translate(573.41,525.08) scale(1.000,1)" font-size="19.89" fill="#000">*</text>
<text transform="translate(533.57,688.86) scale(1.000,1)" font-size="14.69" fill="#000">GF</text>
<text transform="translate(514.24,704.45) scale(0.908,1)" font-size="15.39" fill="#000">with FT-C</text>
<text transform="translate(605.32,688.86) scale(1.000,1)" font-size="14.69" fill="#000">GF</text>
<text transform="translate(587.04,704.46) scale(0.892,1)" font-size="15.41" fill="#000">with FT-V</text>
</g>
</svg>
</body></html>
